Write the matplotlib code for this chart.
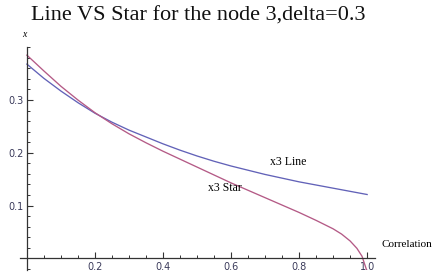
import matplotlib
matplotlib.use("Agg")
import matplotlib.pyplot as plt
from matplotlib.ticker import MultipleLocator, FixedLocator

# Data
corr_line = [0.0, 0.05, 0.1, 0.15, 0.2, 0.25, 0.3, 0.35, 0.4, 0.45, 0.5, 0.55, 0.6, 0.65,
             0.7, 0.75, 0.8, 0.85, 0.9, 0.95, 1.0]
x3_line = [0.368, 0.341, 0.317, 0.295, 0.275, 0.258, 0.243, 0.230, 0.217, 0.205, 0.194,
           0.184, 0.175, 0.167, 0.159, 0.152, 0.145, 0.139, 0.133, 0.127, 0.121]

corr_star = [0.0, 0.05, 0.1, 0.15, 0.2, 0.25, 0.3, 0.35, 0.4, 0.45, 0.5, 0.55, 0.6, 0.65,
             0.7, 0.75, 0.8, 0.85, 0.9, 0.925, 0.95, 0.97, 0.985, 1.0]
x3_star = [0.385, 0.355, 0.326, 0.300, 0.276, 0.255, 0.236, 0.219, 0.203, 0.188, 0.173,
           0.158, 0.143, 0.129, 0.115, 0.101, 0.087, 0.072, 0.056, 0.046, 0.033, 0.019,
           0.004, -0.025]

x_ticks = [0.2, 0.4, 0.6, 0.8, 1.0]
x_tick_labels = ["0.2", "0.4", "0.6", "0.8", "1.0"]
y_ticks = [0.1, 0.2, 0.3]
y_tick_labels = ["0.1", "0.2", "0.3"]

title = "Line VS Star for the node 3,delta=0.3"

fig = plt.figure(figsize=(4.37, 2.73), dpi=100)
ax = fig.add_axes([0.046, 0.011, 0.812, 0.816])

blue = "#6262b8"
red = "#b45a86"
ax.plot(corr_line, x3_line, color=blue, lw=0.95)
ax.plot(corr_star, x3_star, color=red, lw=0.95)

ax.set_xlim(-0.02, 1.023)
ax.set_ylim(-0.022, 0.40)

for s in ["top", "right"]:
    ax.spines[s].set_visible(False)
ax.spines["left"].set_position(("data", 0))
ax.spines["bottom"].set_position(("data", 0))
for s in ["left", "bottom"]:
    ax.spines[s].set_color("#333333")
    ax.spines[s].set_linewidth(0.9)

ax.xaxis.set_major_locator(FixedLocator(x_ticks))
ax.set_xticklabels(x_tick_labels)
ax.yaxis.set_major_locator(FixedLocator(y_ticks))
ax.set_yticklabels(y_tick_labels)
ax.xaxis.set_minor_locator(MultipleLocator(0.05))
ax.yaxis.set_minor_locator(MultipleLocator(0.02))
ax.tick_params(which="major", direction="in", length=4, width=0.8, color="#333333",
               labelsize=7, labelcolor="#3a3a5a", pad=2.5)
ax.tick_params(which="minor", direction="in", length=2.5, width=0.7, color="#333333")

fig.text(0.07, 0.94, title, fontsize=16, family="Liberation Serif", va="center", ha="left",
         color="#111111")
fig.text(0.055, 0.873, "x", fontsize=7, family="Liberation Serif", style="italic", ha="center",
         va="center")
fig.text(0.872, 0.103, "Correlation", fontsize=8, family="Liberation Serif", ha="left",
         va="center")

ax.text(0.768, 0.183, "x3 Line", fontsize=8.5, family="Liberation Serif", ha="center",
        va="center")
ax.text(0.582, 0.133, "x3 Star", fontsize=8.5, family="Liberation Serif", ha="center",
        va="center")

fig.savefig("out.png", dpi=100)
